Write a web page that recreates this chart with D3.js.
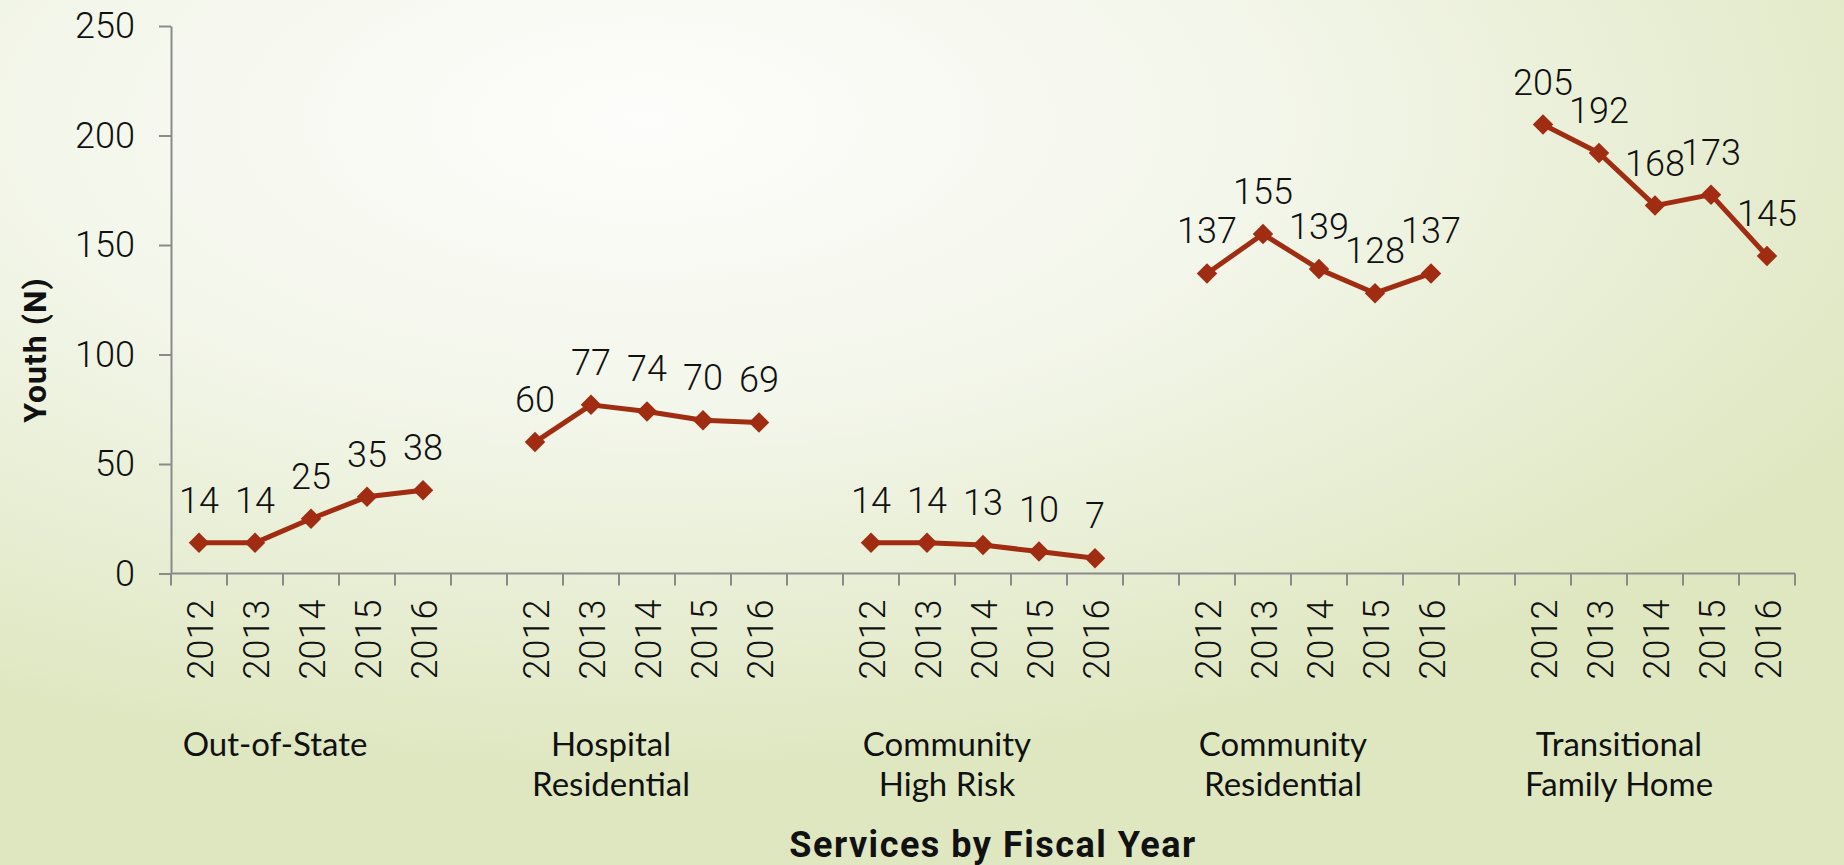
<!DOCTYPE html>
<html>
<head>
<meta charset="utf-8">
<script src="https://cdn.jsdelivr.net/npm/d3@7"></script>
<style>
  html, body { margin: 0; padding: 0; overflow: hidden; }
  svg { display: block; }
</style>
</head>
<body>
<svg id="chart"></svg>
<script>
// values
var years = ['2012', '2013', '2014', '2015', '2016'];
var groupLabels = [
  ['Out-of-State'],
  ['Hospital', 'Residential'],
  ['Community', 'High Risk'],
  ['Community', 'Residential'],
  ['Transitional', 'Family Home']
];
var outOfState = [14, 14, 25, 35, 38];
var hospitalResidential = [60, 77, 74, 70, 69];
var communityHighRisk = [14, 14, 13, 10, 7];
var communityResidential = [137, 155, 139, 128, 137];
var transitionalFamilyHome = [205, 192, 168, 173, 145];
var yTicks = [0, 50, 100, 150, 200, 250];

var series = [outOfState, hospitalResidential, communityHighRisk, communityResidential, transitionalFamilyHome];

var W = 1844, H = 865;
var plot = {left: 171, right: 1795, top: 26, bottom: 573.5};
var red = '#a02d12', axisGrey = '#8a8a8a';

var svg = d3.select('#chart').attr('width', W).attr('height', H);

// background gradient
var grad = svg.append('defs').append('radialGradient')
  .attr('id', 'bg')
  .attr('cx', '0.35').attr('cy', '0.14')
  .attr('r', '0.75');
grad.append('stop').attr('offset', '0').attr('stop-color', '#fdfdfb');
grad.append('stop').attr('offset', '0.45').attr('stop-color', '#f3f6ea');
grad.append('stop').attr('offset', '1').attr('stop-color', '#dfe7c1');
svg.append('rect').attr('width', W).attr('height', H).attr('fill', 'url(#bg)');

// slots: 5 years per group, one empty slot between groups
var slots = [];
series.forEach(function(s, g) {
  if (g > 0) slots.push('gap' + g);
  years.forEach(function(y) { slots.push(g + '|' + y); });
});

var x = d3.scaleBand().domain(slots).range([plot.left, plot.right]).padding(0);
var y = d3.scaleLinear().domain([0, 250]).range([plot.bottom, plot.top]);

// y axis
var yAxis = svg.append('g')
  .attr('transform', 'translate(' + plot.left + ',0)')
  .call(d3.axisLeft(y).tickValues(yTicks).tickSize(12).tickSizeOuter(0).tickPadding(24));
yAxis.selectAll('path, line').attr('stroke', axisGrey).attr('stroke-width', 2);
yAxis.selectAll('text')
  .attr('font-family', 'Roboto, sans-serif')
  .attr('font-weight', 300)
  .attr('font-size', 36)
  .attr('fill', '#111');

// x axis line and tick marks between categories
svg.append('line')
  .attr('x1', plot.left).attr('x2', plot.right)
  .attr('y1', plot.bottom).attr('y2', plot.bottom)
  .attr('stroke', axisGrey).attr('stroke-width', 2);
var edges = slots.map(function(d) { return x(d); }).concat([plot.right]);
svg.selectAll('.xtick').data(edges).enter().append('line')
  .attr('class', 'xtick')
  .attr('x1', function(d) { return d; }).attr('x2', function(d) { return d; })
  .attr('y1', plot.bottom).attr('y2', plot.bottom + 12)
  .attr('stroke', axisGrey).attr('stroke-width', 2);

// year labels, rotated
var yearSlots = slots.filter(function(d) { return d.indexOf('|') > 0; });
svg.selectAll('.year').data(yearSlots).enter().append('text')
  .attr('class', 'year')
  .attr('transform', function(d) {
    return 'translate(' + (x(d) + x.bandwidth() / 2 + 2) + ',' + (plot.bottom + 26) + ') rotate(-90)';
  })
  .attr('text-anchor', 'end')
  .attr('dominant-baseline', 'central')
  .attr('font-family', 'Roboto, sans-serif')
  .attr('font-weight', 300)
  .attr('font-size', 36)
  .attr('fill', '#111')
  .text(function(d) { return d.split('|')[1]; });

// group labels
groupLabels.forEach(function(lines, g) {
  var cx = x(g + '|2014') - 8;
  var t = svg.append('text')
    .attr('text-anchor', 'middle')
    .attr('font-family', 'Lato, sans-serif')
    .attr('font-size', 33)
    .attr('fill', '#111');
  lines.forEach(function(line, i) {
    t.append('tspan').attr('x', cx).attr('y', 756 + i * 40).text(line);
  });
});

// lines, markers, labels
var line = d3.line()
  .x(function(d) { return x(d.key) + x.bandwidth() / 2; })
  .y(function(d) { return y(d.value); });

series.forEach(function(values, g) {
  var pts = values.map(function(v, i) { return {key: g + '|' + years[i], value: v}; });

  svg.append('path')
    .datum(pts)
    .attr('d', line)
    .attr('fill', 'none')
    .attr('stroke', red)
    .attr('stroke-width', 5)
    .attr('stroke-linejoin', 'round');

  svg.selectAll('.mk' + g).data(pts).enter().append('path')
    .attr('class', 'mk' + g)
    .attr('d', d3.symbol().type(d3.symbolSquare).size(210))
    .attr('transform', function(d) {
      return 'translate(' + (x(d.key) + x.bandwidth() / 2) + ',' + y(d.value) + ') rotate(45)';
    })
    .attr('fill', red);

  svg.selectAll('.lb' + g).data(pts).enter().append('text')
    .attr('class', 'lb' + g)
    .attr('x', function(d) { return x(d.key) + x.bandwidth() / 2; })
    .attr('y', function(d) { return y(d.value) - 30; })
    .attr('text-anchor', 'middle')
    .attr('font-family', 'Roboto, sans-serif')
    .attr('font-weight', 300)
    .attr('font-size', 36)
    .attr('fill', '#111')
    .text(function(d) { return d.value; });
});

// axis titles
svg.append('text')
  .attr('transform', 'translate(46,350) rotate(-90)')
  .attr('text-anchor', 'middle')
  .attr('font-family', 'Roboto, sans-serif')
  .attr('font-weight', 700)
  .attr('font-size', 32)
  .attr('letter-spacing', 1)
  .attr('fill', '#111')
  .text('Youth (N)');

svg.append('text')
  .attr('x', 993).attr('y', 857)
  .attr('text-anchor', 'middle')
  .attr('font-family', 'Roboto, sans-serif')
  .attr('font-weight', 700)
  .attr('font-size', 36)
  .attr('letter-spacing', 1.5)
  .attr('fill', '#111')
  .text('Services by Fiscal Year');
</script>
</body>
</html>
